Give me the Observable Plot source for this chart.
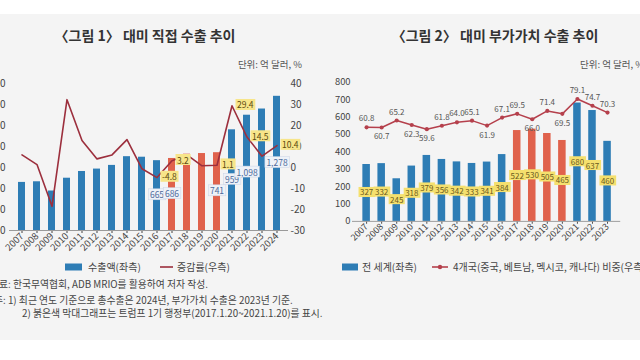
<!DOCTYPE html>
<html><head><meta charset="utf-8">
<script src="https://cdn.jsdelivr.net/npm/d3@7"></script>
<script src="https://cdn.jsdelivr.net/npm/@observablehq/plot@0.6"></script>
<style>
html,body{margin:0;padding:0;background:#fff;}
#wrap{position:relative;width:640px;height:360px;overflow:hidden;background:#fff;font-family:'Noto Sans CJK KR','Noto Sans',sans-serif;color:#333;}
#panel{position:absolute;left:0;top:14px;width:640px;height:326px;background:#f4f4f4;}
.abs{position:absolute;white-space:nowrap;line-height:1;}
.title{font-size:14px;font-weight:700;color:#333;transform:translate(-50%,-50%);}
.unit{font-size:9.5px;color:#555;transform:translateY(-50%);}
.note{font-size:9.8px;color:#444;transform:translateY(-50%);}
.chart{position:absolute;}
</style></head>
<body>
<div id="wrap">
  <div id="panel"></div>
  <div class="abs title" style="left:145px;top:35px;">〈그림 1〉 대미 직접 수출 추이</div>
  <div class="abs title" style="left:495px;top:35px;">〈그림 2〉 대미 부가가치 수출 추이</div>
  <div class="abs unit" style="right:338px;top:65px;">단위: 억 달러, %</div>
  <div class="abs unit" style="left:580px;top:65px;">단위: 억 달러, %</div>
  <div id="c1" class="chart" style="left:-40px;top:60px;"></div>
  <div id="c2" class="chart" style="left:320px;top:60px;"></div>
  <div id="leg1"></div>
  <div id="leg2"></div>
  <div class="abs note" style="left:-10px;top:285px;">자료: 한국무역협회, ADB MRIO를 활용하여 저자 작성.</div>
  <div class="abs note" style="left:-6px;top:301px;">주: 1) 최근 연도 기준으로 총수출은 2024년, 부가가치 수출은 2023년 기준.</div>
  <div class="abs note" style="left:22px;top:314px;">2) 붉은색 막대그래프는 트럼프 1기 행정부(2017.1.20~2021.1.20)를 표시.</div>
</div>
<script>
// ---------- data ----------
const years1 = ["2007","2008","2009","2010","2011","2012","2013","2014","2015","2016","2017","2018","2019","2020","2021","2022","2023","2024"];
const directExports = [458,464,376,498,562,585,620,703,698,665,686,727,733,741,959,1098,1157,1278];
const growthRate = [6.0,1.4,-18.5,32.3,12.9,4.1,6.0,13.3,-0.6,-4.8,3.2,6.0,0.8,1.1,29.4,14.5,5.4,10.4];
const labeledYears1 = ["2016","2017","2020","2021","2022","2024"];

const years2 = ["2007","2008","2009","2010","2011","2012","2013","2014","2015","2016","2017","2018","2019","2020","2021","2022","2023"];
const vaExports = [327,332,245,318,379,356,342,333,341,384,522,530,505,465,680,637,460];
const share4 = [60.8,60.7,65.2,62.3,59.6,61.8,64.0,65.1,61.9,67.1,69.5,66.0,71.4,69.5,79.1,74.7,70.3];
const trumpYears = ["2017","2018","2019","2020"];

const leftTicks1 = [0,200,400,600,800,1000,1200,1400];
const rightTicks1 = [-30,-20,-10,0,10,20,30,40];
const leftTicks2 = [0,100,200,300,400,500,600,700,800];

// ---------- styles ----------
const BLUE = "#2e7db5", RED = "#e0624c", LINE1 = "#9c2f3d", LINE2 = "#b5404c";
const FONT = "'Noto Sans CJK KR','Noto Sans',sans-serif";
const TXT_B1 = "#4d6b9c", TXT_G1 = "#5c4a10", TXT_B2 = "#6a5a20";

const d1 = years1.map((y,i)=>({year:y, value:directExports[i], growth:growthRate[i]}));
const d2 = years2.map((y,i)=>({year:y, value:vaExports[i], share:share4[i]}));
const trump = new Set(trumpYears);
const lab1 = new Set(labeledYears1);

// right axis mapping for chart 1: [-30,40] -> [0,1400]
const g2y = g => (g + 30) * 20;
// right axis mapping for chart 2: [0,90] -> [0,800]
const s2y = s => s * 800 / 90;
const belowYears = new Set(["2008","2010","2011","2015","2018","2020"]);

const p1 = Plot.plot({
  width: 360, height: 210, marginLeft: 49, marginRight: 32, marginTop: 23, marginBottom: 40,
  style: {fontFamily: FONT, background: "transparent", overflow: "visible", color: "#444"},
  x: {type: "band", domain: years1, paddingInner: 0.55, paddingOuter: 0.3, label: null},
  y: {domain: [0, 1400], label: null},
  marks: [
    Plot.axisY(leftTicks1, {anchor: "left", tickSize: 0, tickPadding: 4, fontSize: 10, label: null, tickFormat: d3.format(",")}),
    Plot.axisY(rightTicks1.map(g2y), {anchor: "right", tickSize: 0, tickPadding: 2, fontSize: 10, label: null, tickFormat: v => Math.round(v / 20 - 30)}),
    Plot.axisX({tickRotate: -45, tickSize: 3, tickPadding: 1, fontSize: 9.5, label: null}),
    Plot.barY(d1, {filter: d => !trump.has(d.year), x: "year", y: "value", fill: BLUE}),
    Plot.barY(d1, {filter: d => trump.has(d.year), x: "year", y: "value", fill: RED}),
    Plot.ruleY([0], {stroke: "#9a9a9a"}),
    Plot.line(d1, {x: "year", y: d => g2y(d.growth), stroke: LINE1, strokeWidth: 1.6}),
    Plot.text(d1, {filter: d => lab1.has(d.year), x: "year", y: d => d.value / 2, text: d => d3.format(",")(d.value), fontSize: 8.5, fill: TXT_B1}),
    Plot.text(d1, {filter: d => lab1.has(d.year), x: "year", y: d => g2y(d.growth), text: d => d.growth.toFixed(1), dx: 5, textAnchor: "start", fontSize: 8.5, fill: TXT_G1})
  ]
});
document.getElementById("c1").appendChild(p1);

const p2 = Plot.plot({
  width: 340, height: 211, marginLeft: 34, marginRight: 21, marginTop: 23, marginBottom: 40,
  style: {fontFamily: FONT, background: "transparent", overflow: "visible", color: "#444"},
  x: {type: "band", domain: years2, paddingInner: 0.52, paddingOuter: 0.3, label: null},
  y: {domain: [0, 800], label: null},
  marks: [
    Plot.axisY(leftTicks2, {anchor: "left", tickSize: 0, tickPadding: 2, fontSize: 10, label: null}),
    Plot.axisX({tickRotate: -45, tickSize: 3, tickPadding: 1, fontSize: 9.5, label: null}),
    Plot.barY(d2, {filter: d => !trump.has(d.year), x: "year", y: "value", fill: BLUE}),
    Plot.barY(d2, {filter: d => trump.has(d.year), x: "year", y: "value", fill: RED}),
    Plot.ruleY([0], {stroke: "#9a9a9a"}),
    Plot.line(d2, {x: "year", y: d => s2y(d.share), stroke: LINE2, strokeWidth: 1.6}),
    Plot.dot(d2, {x: "year", y: d => s2y(d.share), r: 2.2, fill: LINE2}),
    Plot.text(d2, {filter: d => !belowYears.has(d.year), x: "year", y: d => s2y(d.share), text: d => d.share.toFixed(1), dy: -9, fontSize: 8.5, fill: "#555"}),
    Plot.text(d2, {filter: d => belowYears.has(d.year), x: "year", y: d => s2y(d.share), text: d => d.share.toFixed(1), dy: 10, fontSize: 8.5, fill: "#555"}),
    Plot.text(d2, {x: "year", y: d => d.value / 2, text: d => String(d.value), fontSize: 8.5, fill: TXT_B2})
  ]
});
document.getElementById("c2").appendChild(p2);

// label boxes behind text groups identified by their text colour
function boxes(svg, color, fill, stroke) {
  const texts = Array.from(svg.querySelectorAll("text")).filter(t => {
    let n = t;
    while (n && n !== svg) { if (n.getAttribute && n.getAttribute("fill") === color) return true; n = n.parentNode; }
    return false;
  });
  texts.forEach(function(t) {
    const b = t.getBBox();
    const r = document.createElementNS("http://www.w3.org/2000/svg", "rect");
    r.setAttribute("x", b.x - 1.5); r.setAttribute("y", b.y + 0.5);
    r.setAttribute("width", b.width + 3); r.setAttribute("height", Math.max(0, b.height - 1));
    r.setAttribute("fill", fill);
    if (stroke) { r.setAttribute("stroke", stroke); r.setAttribute("stroke-width", 0.5); }
    const tr = t.getAttribute("transform"); if (tr) r.setAttribute("transform", tr);
    t.parentNode.insertBefore(r, t);
  });
}
boxes(p1, TXT_B1, "#eef2f8", "#c9d4e6");
boxes(p1, TXT_G1, "#f7e58a", null);
boxes(p2, TXT_B2, "#f5e06e", null);

// legends
function legend(el, items) {
  const svg = d3.select(el).append("svg").attr("width", 640).attr("height", 20)
    .style("position", "absolute").style("left", "0px").style("top", "257px").style("overflow", "visible");
  for (const it of items) {
    if (it.type === "rect") svg.append("rect").attr("x", it.x).attr("y", 6.5).attr("width", it.w).attr("height", 7).attr("fill", it.color);
    else {
      svg.append("line").attr("x1", it.x).attr("x2", it.x + it.w).attr("y1", 10).attr("y2", 10).attr("stroke", it.color).attr("stroke-width", 1.6);
      if (it.dot) svg.append("circle").attr("cx", it.x + it.w / 2).attr("cy", 10).attr("r", 2.2).attr("fill", it.color);
    }
    svg.append("text").attr("x", it.tx).attr("y", 10).attr("dy", "0.35em").attr("font-size", 10).attr("fill", "#444")
      .attr("font-family", FONT).text(it.text);
  }
}
legend(document.getElementById("leg1"), [
  {type: "rect", x: 65, w: 17, color: BLUE, tx: 88, text: "수출액(좌측)"},
  {type: "line", x: 160, w: 13, color: LINE1, tx: 177, text: "증감률(우측)"}
]);
legend(document.getElementById("leg2"), [
  {type: "rect", x: 342, w: 16, color: BLUE, tx: 362, text: "전 세계(좌측)"},
  {type: "line", x: 432, w: 16, color: LINE2, dot: true, tx: 453, text: "4개국(중국, 베트남, 멕시코, 캐나다) 비중(우측)"}
]);
</script>
</body></html>
